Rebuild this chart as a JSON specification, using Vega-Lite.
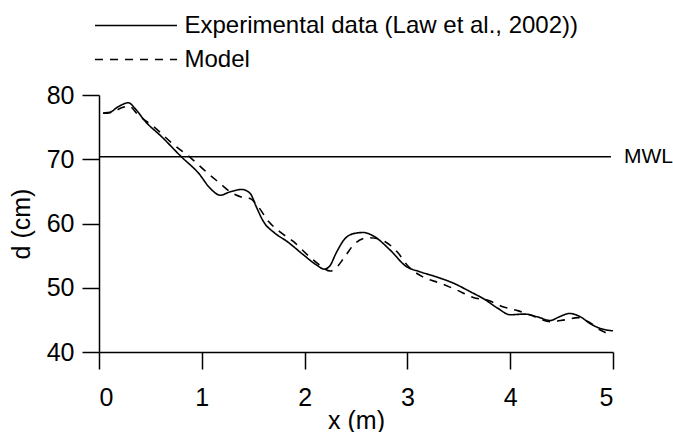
{
  "$schema": "https://vega.github.io/schema/vega-lite/v6.json",
  "width": 514,
  "height": 257,
  "autosize": {"type": "none"},
  "padding": {"left": 99, "top": 95, "right": 60, "bottom": 80},
  "background": "white",
  "config": {
    "view": {"stroke": null},
    "font": "Liberation Sans",
    "axis": {
      "domainColor": "black", "domainWidth": 1.5, "tickColor": "black", "tickWidth": 1.5,
      "labelColor": "black", "labelFontSize": 25, "labelFont": "Liberation Sans",
      "titleColor": "black", "titleFontSize": 25, "titleFont": "Liberation Sans", "titleFontWeight": "normal",
      "grid": false
    },
    "legend": {
      "labelFont": "Liberation Sans", "labelFontSize": 24, "labelColor": "black", "labelLimit": 0
    }
  },
  "datasets": {
    "curves": [
      {"x": 0.04, "d": 77.15, "series": "Experimental data (Law et al., 2002))"},
      {"x": 0.09, "d": 77.2, "series": "Experimental data (Law et al., 2002))"},
      {"x": 0.19, "d": 78.2, "series": "Experimental data (Law et al., 2002))"},
      {"x": 0.285, "d": 78.8, "series": "Experimental data (Law et al., 2002))"},
      {"x": 0.35, "d": 77.9, "series": "Experimental data (Law et al., 2002))"},
      {"x": 0.45, "d": 75.9, "series": "Experimental data (Law et al., 2002))"},
      {"x": 0.61, "d": 73.5, "series": "Experimental data (Law et al., 2002))"},
      {"x": 0.80, "d": 70.4, "series": "Experimental data (Law et al., 2002))"},
      {"x": 0.97, "d": 67.8, "series": "Experimental data (Law et al., 2002))"},
      {"x": 1.08, "d": 65.5, "series": "Experimental data (Law et al., 2002))"},
      {"x": 1.18, "d": 64.4, "series": "Experimental data (Law et al., 2002))"},
      {"x": 1.27, "d": 64.9, "series": "Experimental data (Law et al., 2002))"},
      {"x": 1.39, "d": 65.3, "series": "Experimental data (Law et al., 2002))"},
      {"x": 1.47, "d": 64.7, "series": "Experimental data (Law et al., 2002))"},
      {"x": 1.53, "d": 62.6, "series": "Experimental data (Law et al., 2002))"},
      {"x": 1.60, "d": 60.3, "series": "Experimental data (Law et al., 2002))"},
      {"x": 1.71, "d": 58.5, "series": "Experimental data (Law et al., 2002))"},
      {"x": 1.83, "d": 57.2, "series": "Experimental data (Law et al., 2002))"},
      {"x": 1.99, "d": 55.1, "series": "Experimental data (Law et al., 2002))"},
      {"x": 2.12, "d": 53.5, "series": "Experimental data (Law et al., 2002))"},
      {"x": 2.19, "d": 52.9, "series": "Experimental data (Law et al., 2002))"},
      {"x": 2.24, "d": 53.3, "series": "Experimental data (Law et al., 2002))"},
      {"x": 2.31, "d": 55.5, "series": "Experimental data (Law et al., 2002))"},
      {"x": 2.38, "d": 57.4, "series": "Experimental data (Law et al., 2002))"},
      {"x": 2.47, "d": 58.4, "series": "Experimental data (Law et al., 2002))"},
      {"x": 2.57, "d": 58.6, "series": "Experimental data (Law et al., 2002))"},
      {"x": 2.68, "d": 57.95, "series": "Experimental data (Law et al., 2002))"},
      {"x": 2.83, "d": 55.9, "series": "Experimental data (Law et al., 2002))"},
      {"x": 2.99, "d": 53.3, "series": "Experimental data (Law et al., 2002))"},
      {"x": 3.12, "d": 52.5, "series": "Experimental data (Law et al., 2002))"},
      {"x": 3.28, "d": 51.7, "series": "Experimental data (Law et al., 2002))"},
      {"x": 3.45, "d": 50.7, "series": "Experimental data (Law et al., 2002))"},
      {"x": 3.61, "d": 49.4, "series": "Experimental data (Law et al., 2002))"},
      {"x": 3.75, "d": 48.2, "series": "Experimental data (Law et al., 2002))"},
      {"x": 3.88, "d": 46.8, "series": "Experimental data (Law et al., 2002))"},
      {"x": 4.00, "d": 45.8, "series": "Experimental data (Law et al., 2002))"},
      {"x": 4.14, "d": 45.9, "series": "Experimental data (Law et al., 2002))"},
      {"x": 4.26, "d": 45.5, "series": "Experimental data (Law et al., 2002))"},
      {"x": 4.39, "d": 44.9, "series": "Experimental data (Law et al., 2002))"},
      {"x": 4.48, "d": 45.5, "series": "Experimental data (Law et al., 2002))"},
      {"x": 4.58, "d": 46.0, "series": "Experimental data (Law et al., 2002))"},
      {"x": 4.68, "d": 45.5, "series": "Experimental data (Law et al., 2002))"},
      {"x": 4.79, "d": 44.3, "series": "Experimental data (Law et al., 2002))"},
      {"x": 4.89, "d": 43.6, "series": "Experimental data (Law et al., 2002))"},
      {"x": 5.0, "d": 43.3, "series": "Experimental data (Law et al., 2002))"},
      {"x": 0.04, "d": 77.2, "series": "Model"},
      {"x": 0.12, "d": 77.3, "series": "Model"},
      {"x": 0.22, "d": 78.0, "series": "Model"},
      {"x": 0.29, "d": 78.3, "series": "Model"},
      {"x": 0.38, "d": 76.9, "series": "Model"},
      {"x": 0.53, "d": 75.1, "series": "Model"},
      {"x": 0.71, "d": 72.5, "series": "Model"},
      {"x": 0.90, "d": 70.1, "series": "Model"},
      {"x": 1.06, "d": 67.8, "series": "Model"},
      {"x": 1.18, "d": 66.2, "series": "Model"},
      {"x": 1.27, "d": 65.0, "series": "Model"},
      {"x": 1.39, "d": 64.1, "series": "Model"},
      {"x": 1.47, "d": 63.9, "series": "Model"},
      {"x": 1.55, "d": 62.6, "series": "Model"},
      {"x": 1.65, "d": 60.3, "series": "Model"},
      {"x": 1.76, "d": 58.7, "series": "Model"},
      {"x": 1.89, "d": 57.2, "series": "Model"},
      {"x": 2.05, "d": 54.8, "series": "Model"},
      {"x": 2.15, "d": 53.5, "series": "Model"},
      {"x": 2.25, "d": 52.6, "series": "Model"},
      {"x": 2.30, "d": 53.0, "series": "Model"},
      {"x": 2.39, "d": 54.8, "series": "Model"},
      {"x": 2.49, "d": 56.9, "series": "Model"},
      {"x": 2.62, "d": 57.8, "series": "Model"},
      {"x": 2.72, "d": 57.6, "series": "Model"},
      {"x": 2.78, "d": 57.2, "series": "Model"},
      {"x": 2.91, "d": 55.4, "series": "Model"},
      {"x": 3.01, "d": 53.3, "series": "Model"},
      {"x": 3.15, "d": 51.7, "series": "Model"},
      {"x": 3.32, "d": 50.7, "series": "Model"},
      {"x": 3.48, "d": 49.65, "series": "Model"},
      {"x": 3.64, "d": 48.5, "series": "Model"},
      {"x": 3.79, "d": 48.0, "series": "Model"},
      {"x": 3.92, "d": 47.1, "series": "Model"},
      {"x": 4.08, "d": 46.4, "series": "Model"},
      {"x": 4.24, "d": 45.5, "series": "Model"},
      {"x": 4.39, "d": 44.7, "series": "Model"},
      {"x": 4.53, "d": 45.0, "series": "Model"},
      {"x": 4.66, "d": 45.35, "series": "Model"},
      {"x": 4.76, "d": 44.7, "series": "Model"},
      {"x": 4.89, "d": 43.3, "series": "Model"},
      {"x": 4.93, "d": 43.0, "series": "Model"}
    ],
    "mwl": [{"x": 0, "x2": 4.98, "d": 70.4, "label": "MWL"}]
  },
  "layer": [
    {
      "data": {"name": "curves"},
      "mark": {"type": "line", "stroke": "black", "strokeWidth": 1.6, "interpolate": "monotone"},
      "encoding": {
        "x": {
          "field": "x", "type": "quantitative",
          "scale": {"domain": [0, 5], "nice": false, "zero": false},
          "axis": {
            "title": "x (m)",
            "values": [0, 0.5, 1, 1.5, 2, 2.5, 3, 3.5, 4, 4.5, 5],
            "format": "d",
            "labelExpr": "datum.value % 1 === 0 ? datum.label : ''",
            "tickSize": 17,
            "labelPadding": 16,
            "titlePadding": -2,
            "encode": {"ticks": {"update": {"y2": {"signal": "datum.value % 1 === 0 ? 17 : 9"}}}}
          }
        },
        "y": {
          "field": "d", "type": "quantitative",
          "scale": {"domain": [40, 80], "nice": false, "zero": false},
          "axis": {
            "title": "d (cm)",
            "values": [40, 45, 50, 55, 60, 65, 70, 75, 80],
            "format": "d",
            "labelExpr": "datum.value % 10 === 0 ? datum.label : ''",
            "tickSize": 17,
            "labelPadding": 8,
            "titlePadding": 12,
            "encode": {"ticks": {"update": {"x2": {"signal": "datum.value % 10 === 0 ? -17 : -9"}}}}
          }
        },
        "strokeDash": {
          "field": "series", "type": "nominal",
          "scale": {"domain": ["Experimental data (Law et al., 2002))", "Model"], "range": [[1, 0], [8, 7]]},
          "legend": {
            "title": null,
            "orient": "none",
            "legendX": 15.5,
            "legendY": -91,
            "symbolType": "M-2,0H2",
            "symbolSize": 1681,
            "symbolStrokeWidth": 1.6,
            "symbolStrokeColor": "black",
            "labelOffset": 27,
            "rowPadding": -1
          }
        }
      }
    },
    {
      "data": {"name": "mwl"},
      "mark": {"type": "rule", "stroke": "black", "strokeWidth": 1.6},
      "encoding": {
        "x": {"field": "x", "type": "quantitative"},
        "x2": {"field": "x2"},
        "y": {"field": "d", "type": "quantitative"}
      }
    },
    {
      "data": {"name": "mwl"},
      "mark": {"type": "text", "align": "left", "baseline": "middle", "dx": 13, "fontSize": 21, "font": "Liberation Sans", "fill": "black"},
      "encoding": {
        "x": {"field": "x2", "type": "quantitative"},
        "y": {"field": "d", "type": "quantitative"},
        "text": {"field": "label"}
      }
    }
  ]
}
